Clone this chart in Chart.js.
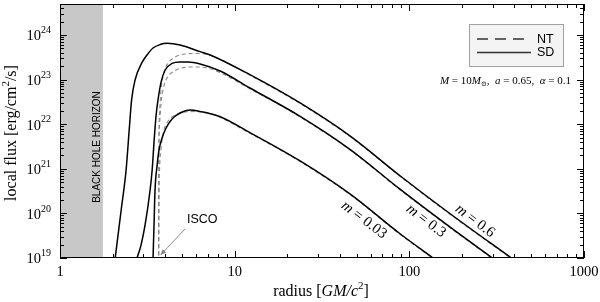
<!DOCTYPE html>
<html>
<head>
<meta charset="utf-8">
<script src="https://cdn.jsdelivr.net/npm/chart.js@4.4.1/dist/chart.umd.min.js"></script>
<style>
html,body{margin:0;padding:0;background:#fff}
#wrap{width:600px;height:302px;position:relative}
</style>
</head>
<body>
<div id="wrap"><canvas id="c"></canvas></div>
<script>
// ----------------------- DATA -----------------------
const xDecades = [1, 10, 100, 1000];
const yExponents = [19, 20, 21, 22, 23, 24];
const yMin = 1e19, yMax = 4.95e24;
const horizonR = 1.76;   // black hole horizon
const iscoR = 3.62;      // ISCO radius

// SD (solid) curves
const rSD06 = [2.07, 2.24, 2.39, 2.49, 2.57, 2.69, 2.94, 3.15, 3.41, 3.74, 4.10, 4.87, 6.34, 7.24, 12.3, 23.7, 45.9, 88.8, 172, 384];
const fSD06 = [1e19, 1.19e20, 9.4e20, 7.4e21, 3.5e22, 9.8e22, 2.36e23, 3.57e23, 5.1e23, 6.1e23, 6.5e23, 5.97e23, 4.23e23, 3.57e23, 1.27e23, 2.99e22, 5.4e21, 6.9e20, 9.7e19, 1e19];
const rSD03 = [2.76, 2.91, 3.07, 3.28, 3.37, 3.46, 3.55, 3.64, 3.79, 4.00, 4.38, 4.87, 5.41, 6.34, 8.26, 12.3, 23.7, 45.9, 88.8, 172, 299];
const fSD03 = [1e19, 1.95e19, 5.5e19, 3.35e20, 9.4e20, 4.4e21, 1.6e22, 3.5e22, 8.8e22, 1.64e23, 2.30e23, 2.48e23, 2.48e23, 2.24e23, 1.56e23, 6.4e22, 1.5e22, 2.7e21, 3.45e20, 4.85e19, 1e19];
const rSD003 = [3.41, 3.46, 3.50, 3.60, 3.69, 3.84, 4.05, 4.38, 4.87, 5.56, 6.34, 8.26, 12.3, 23.7, 45.9, 88.8, 137];
const fSD003 = [1e19, 7.1e19, 3.35e20, 1.22e21, 2.64e21, 4.9e21, 8.2e21, 1.31e22, 1.78e22, 2.08e22, 1.93e22, 1.47e22, 6.4e21, 1.5e21, 2.7e20, 3.45e19, 1e19];

// NT (dashed) curves
const rNT06 = [3.67, 3.68, 3.72, 3.79, 3.94, 4.16, 4.56, 5.20, 5.94, 7.24, 12.3, 23.7, 45.9, 88.8, 172, 384];
const fNT06 = [8e18, 2.64e21, 2.08e22, 5.85e22, 1.48e23, 2.36e23, 3.21e23, 3.75e23, 3.85e23, 3.5e23, 1.23e23, 2.9e22, 5.25e21, 6.7e20, 9.4e19, 9.7e18];
const rNT03 = [3.67, 3.68, 3.72, 3.79, 3.94, 4.16, 4.56, 5.20, 5.94, 7.24, 12.3, 23.7, 45.9, 88.8, 172, 299];
const fNT03 = [4e18, 1.32e21, 1.04e22, 2.9e22, 7.4e22, 1.18e23, 1.6e23, 1.88e23, 1.92e23, 1.75e23, 6.15e22, 1.45e22, 2.62e21, 3.35e20, 4.7e19, 9.7e18];
const rNT003 = [3.67, 3.68, 3.72, 3.79, 3.94, 4.16, 4.56, 5.20, 5.94, 7.24, 12.3, 23.7, 45.9, 88.8, 137];
const fNT003 = [8e18, 1.32e20, 1.04e21, 2.9e21, 7.4e21, 1.18e22, 1.6e22, 1.88e22, 1.92e22, 1.75e22, 6.15e21, 1.45e21, 2.62e20, 3.35e19, 9.7e18];

const curveLabels = ['0.03', '0.3', '0.6'];

// ----------------------- HELPERS -----------------------
const serif = "'Liberation Serif','DejaVu Serif',serif";
const sans = "'Liberation Sans','DejaVu Sans',sans-serif";
const pts = (r, f) => r.map((v, i) => ({x: v, y: f[i]}));

// draw text made of parts [text, font, dy]
function rich(ctx, parts, x, y, align){
  let w = 0;
  parts.forEach(p => { ctx.font = p[1]; w += ctx.measureText(p[0]).width; });
  let cx = align === 'center' ? x - w/2 : align === 'right' ? x - w : x;
  ctx.textAlign = 'left';
  parts.forEach(p => { ctx.font = p[1]; ctx.fillText(p[0], cx, y + (p[2] || 0)); cx += ctx.measureText(p[0]).width; });
}

function solid(data){ return {data, borderColor:'#000', borderWidth:1.5, pointRadius:0, cubicInterpolationMode:'monotone', order:0}; }
function dashed(data){ return {data, borderColor:'#8a8a8a', borderWidth:1.1, borderDash:[4,3], pointRadius:0, cubicInterpolationMode:'monotone', order:1}; }

// ----------------------- DECORATION PLUGIN -----------------------
const decor = {
  id: 'decor',
  beforeDatasetsDraw(chart){
    const {ctx, chartArea: a, scales: {x}} = chart;
    const xh = x.getPixelForValue(horizonR);
    ctx.save();
    ctx.fillStyle = '#c8c8c8';
    ctx.fillRect(a.left, a.top, xh - a.left, a.bottom - a.top);
    ctx.translate(xh - 6, 147);
    ctx.rotate(-Math.PI/2);
    ctx.fillStyle = '#000';
    ctx.font = '10px ' + sans;
    ctx.textAlign = 'center'; ctx.textBaseline = 'middle';
    ctx.fillText('BLACK HOLE HORIZON', 0, 0);
    ctx.restore();
  },
  afterDatasetsDraw(chart){
    const {ctx, chartArea: a, scales: {x, y}} = chart;
    ctx.save();
    ctx.strokeStyle = '#000'; ctx.lineWidth = 1;
    ctx.strokeRect(a.left + 0.5, a.top + 0.5, a.right - a.left - 1, a.bottom - a.top - 1);

    // inward ticks
    ctx.beginPath();
    xDecades.forEach((d, i) => {
      for (let k = 1; k <= 9; k++){
        const v = d * k; if (v > 1000 || (k > 1 && i === xDecades.length - 1)) continue;
        const px = Math.round(x.getPixelForValue(v)) + 0.5, len = k === 1 ? 7 : 4;
        ctx.moveTo(px, a.bottom); ctx.lineTo(px, a.bottom - len);
        ctx.moveTo(px, a.top); ctx.lineTo(px, a.top + len);
      }
    });
    yExponents.forEach(e => {
      for (let k = 1; k <= 9; k++){
        const v = k * Math.pow(10, e); if (v > yMax) continue;
        const py = Math.round(y.getPixelForValue(v)) + 0.5, len = k === 1 ? 7 : 4;
        ctx.moveTo(a.left, py); ctx.lineTo(a.left + len, py);
        ctx.moveTo(a.right, py); ctx.lineTo(a.right - len, py);
      }
    });
    ctx.stroke();

    // tick labels
    ctx.fillStyle = '#000'; ctx.textBaseline = 'middle';
    xDecades.forEach(d => {
      ctx.font = '14.5px ' + serif; ctx.textAlign = 'center';
      ctx.fillText(String(d), x.getPixelForValue(d), a.bottom + 14);
    });
    yExponents.forEach(e => {
      const py = y.getPixelForValue(Math.pow(10, e));
      rich(ctx, [['10', '14.5px ' + serif, 1.5], [String(e), '10px ' + serif, -4.5]], 51, py, 'right');
    });

    // axis titles
    rich(ctx, [['radius [', '16px ' + serif], ['GM/c', 'italic 16px ' + serif], ['2', '11px ' + serif, -6], [']', '16px ' + serif]], 321, 292, 'center');
    ctx.save();
    ctx.translate(12, 133); ctx.rotate(-Math.PI/2);
    rich(ctx, [['local flux [erg/cm', '16px ' + serif], ['2', '11px ' + serif, -6], ['/s]', '16px ' + serif]], 0, 0, 'center');
    ctx.restore();

    // curve labels
    const lab = [[364, 220], [426, 221], [475, 221]];
    curveLabels.forEach((t, i) => {
      ctx.save();
      ctx.translate(lab[i][0], lab[i][1]); ctx.rotate(37 * Math.PI / 180);
      rich(ctx, [['m', 'italic 15px ' + serif], [' = ' + t, '15px ' + serif]], 0, 0, 'center');
      ctx.restore();
    });

    // legend
    ctx.fillStyle = '#f4f4f4'; ctx.fillRect(469.5, 24.5, 94, 42);
    ctx.strokeStyle = '#a0a0a0'; ctx.strokeRect(469.5, 24.5, 94, 42);
    ctx.strokeStyle = '#333'; ctx.lineWidth = 1.3;
    ctx.setLineDash([11, 7]);
    ctx.beginPath(); ctx.moveTo(477, 39); ctx.lineTo(531, 39); ctx.stroke();
    ctx.setLineDash([]);
    ctx.beginPath(); ctx.moveTo(477, 52.5); ctx.lineTo(531, 52.5); ctx.stroke();
    ctx.fillStyle = '#000'; ctx.font = '12.5px ' + sans; ctx.textAlign = 'left';
    ctx.fillText('NT', 537, 39.5); ctx.fillText('SD', 537, 53);

    // parameters
    const f = '11px ' + serif, fi = 'italic 11px ' + serif;
    rich(ctx, [['M', fi], [' = 10', f], ['M', fi], ['\u2299', '7px ' + serif, 3], [',  ', f], ['a', fi], [' = 0.65,  ', f], ['\u03b1', fi], [' = 0.1', f]], 571, 81, 'right');

    // ISCO arrow
    const tx = x.getPixelForValue(iscoR) + 3, ty = a.bottom - 3;
    ctx.strokeStyle = '#808080'; ctx.fillStyle = '#808080'; ctx.lineWidth = 0.9;
    ctx.beginPath(); ctx.moveTo(185, 229); ctx.lineTo(tx, ty); ctx.stroke();
    const ang = Math.atan2(ty - 229, tx - 185);
    ctx.beginPath(); ctx.moveTo(tx, ty);
    ctx.lineTo(tx - 6 * Math.cos(ang - 0.4), ty - 6 * Math.sin(ang - 0.4));
    ctx.lineTo(tx - 6 * Math.cos(ang + 0.4), ty - 6 * Math.sin(ang + 0.4));
    ctx.closePath(); ctx.fill();
    ctx.fillStyle = '#000'; ctx.font = '12.5px ' + sans; ctx.textAlign = 'left';
    ctx.fillText('ISCO', 187, 220);
    ctx.restore();
  }
};

// ----------------------- CHART -----------------------
new Chart(document.getElementById('c'), {
  type: 'line',
  data: {
    datasets: [
      solid(pts(rSD06, fSD06)), solid(pts(rSD03, fSD03)), solid(pts(rSD003, fSD003)),
      dashed(pts(rNT06, fNT06)), dashed(pts(rNT03, fNT03)), dashed(pts(rNT003, fNT003))
    ]
  },
  options: {
    responsive: true, maintainAspectRatio: false, animation: false, devicePixelRatio: 1,
    layout: {padding: {top: 4, right: 16, left: 0, bottom: 0}},
    plugins: {legend: {display: false}, tooltip: {enabled: false}},
    scales: {
      x: {type: 'logarithmic', min: 1, max: 1000, grid: {display: false}, border: {display: false},
          ticks: {display: false}, afterFit: s => { s.height = 44; }},
      y: {type: 'logarithmic', min: yMin, max: yMax, grid: {display: false}, border: {display: false},
          ticks: {display: false}, afterFit: s => { s.width = 60; }}
    }
  },
  plugins: [decor]
});
</script>
</body>
</html>
